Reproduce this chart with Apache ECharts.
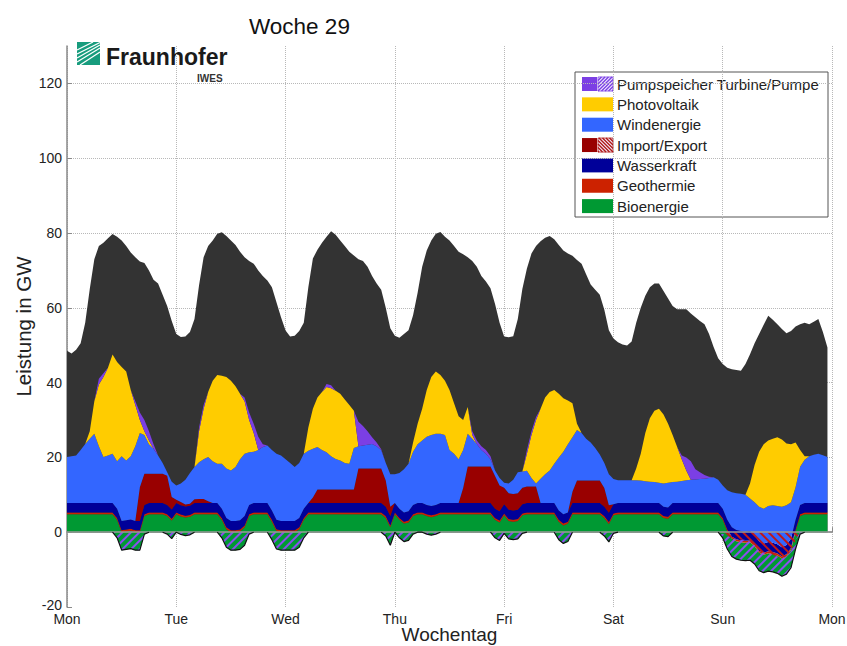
<!DOCTYPE html>
<html>
<head>
<meta charset="utf-8">
<script src="https://cdn.jsdelivr.net/npm/echarts@6/dist/echarts.min.js"></script>
<style>
  html, body { margin: 0; padding: 0; background: #ffffff; }
  #chart { width: 847px; height: 646px; }
</style>
</head>
<body>
<div id="chart"></div>
<script>
// Hourly generation, week 29 (Mon 00:00 .. Sun 23:00), values in GW.
const dayLabels = ['Mon', 'Tue', 'Wed', 'Thu', 'Fri', 'Sat', 'Sun', 'Mon'];

// Total load (top of the dark area)
const last = [
  48.5,47.8,48.8,50.5,56,65,73,76.5,77.4,78.6,79.7,79,78,76.5,74.8,73.5,72.4,72,70,67.5,66.5,63.5,60.5,56.5,
  53,52.2,52.3,53.5,57,66,73.5,76.5,78,79.8,80.2,79.2,78,76.8,75,73.5,72.5,71.8,70,68.5,67.3,65.5,61.5,57.5,
  53.9,52.3,52.5,53.8,56,65.5,73.2,75.5,77.4,79,80.5,79.5,78,76.5,75,74,73,72.5,71,68.5,66.5,64.8,60,54.5,
  52.5,52,53,54,58,64,71,75.3,78,79.8,80.3,79,78,76.5,75,74.3,73.5,72.5,71,68.5,67,65.2,61,56,
  52.3,52.1,52.4,57,65,70.5,74.5,76.5,77.8,78.7,79.2,78.3,76.8,75.3,74.5,73.9,72.8,71.8,69,66.2,64.8,63.5,59.5,54,
  51.8,50.8,50.2,49.9,51,56,60,63.2,65.5,66.5,66.5,64.5,62.5,60.5,59.6,59.6,59.6,58.5,57.5,56.5,55.6,53,49.5,46.5,
  45,44,43.6,43.4,43.2,45,47.6,50.5,53,55.5,57.9,56.8,55.6,54.3,53.2,53.8,55,55.6,56,55.6,56.3,57,53.5,49.4
];

const bioenergie = [
  4.8,4.8,4.8,4.8,4.8,4.8,4.8,4.8,4.8,4.8,4.8,4.8,4.8,4.8,4.8,4.8,4.8,4.8,4.8,4.8,4.8,4.8,4.8,4.8,
  4.8,4.8,4.8,4.8,4.8,4.8,4.8,4.8,4.8,4.8,4.8,4.8,4.8,4.8,4.8,4.8,4.8,4.8,4.8,4.8,4.8,4.8,4.8,4.8,
  4.8,4.8,4.8,4.8,4.8,4.8,4.8,4.8,4.8,4.8,4.8,4.8,4.8,4.8,4.8,4.8,4.8,4.8,4.8,4.8,4.8,4.8,4.8,4.8,
  4.8,4.8,4.8,4.8,4.8,4.8,4.8,4.8,4.8,4.8,4.8,4.8,4.8,4.8,4.8,4.8,4.8,4.8,4.8,4.8,4.8,4.8,4.8,4.8,
  4.8,4.8,4.8,4.8,4.8,4.8,4.8,4.8,4.8,4.8,4.8,4.8,4.8,4.8,4.8,4.8,4.8,4.8,4.8,4.8,4.8,4.8,4.8,4.8,
  4.8,4.8,4.8,4.8,4.8,4.8,4.8,4.8,4.8,4.8,4.8,4.8,4.8,4.8,4.8,4.8,4.8,4.8,4.8,4.8,4.8,4.8,4.8,4.8,
  4.8,4.8,4.8,4.8,4.8,4.8,4.8,4.8,4.8,4.8,4.8,4.8,4.8,4.8,4.8,4.8,4.8,4.8,4.8,4.8,4.8,4.8,4.8,4.8
];

const geothermie = [
  0.5,0.5,0.5,0.5,0.5,0.5,0.5,0.5,0.5,0.5,0.5,0.5,0.5,0.5,0.5,0.5,0.5,0.5,0.5,0.5,0.5,0.5,0.5,0.5,
  0.5,0.5,0.5,0.5,0.5,0.5,0.5,0.5,0.5,0.5,0.5,0.5,0.5,0.5,0.5,0.5,0.5,0.5,0.5,0.5,0.5,0.5,0.5,0.5,
  0.5,0.5,0.5,0.5,0.5,0.5,0.5,0.5,0.5,0.5,0.5,0.5,0.5,0.5,0.5,0.5,0.5,0.5,0.5,0.5,0.5,0.5,0.5,0.5,
  0.5,0.5,0.5,0.5,0.5,0.5,0.5,0.5,0.5,0.5,0.5,0.5,0.5,0.5,0.5,0.5,0.5,0.5,0.5,0.5,0.5,0.5,0.5,0.5,
  0.5,0.5,0.5,0.5,0.5,0.5,0.5,0.5,0.5,0.5,0.5,0.5,0.5,0.5,0.5,0.5,0.5,0.5,0.5,0.5,0.5,0.5,0.5,0.5,
  0.5,0.5,0.5,0.5,0.5,0.5,0.5,0.5,0.5,0.5,0.5,0.5,0.5,0.5,0.5,0.5,0.5,0.5,0.5,0.5,0.5,0.5,0.5,0.5,
  0.5,0.5,0.5,0.5,0.5,0.5,0.5,0.5,0.5,0.5,0.5,0.5,0.5,0.5,0.5,0.5,0.5,0.5,0.5,0.5,0.5,0.5,0.5,0.5
];

const wasserkraft = [
  2.5,2.5,2.5,2.5,2.5,2.5,2.5,2.5,2.5,2.5,2.5,2.5,2.5,2.5,2.5,2.5,2.5,2.5,2.5,2.5,2.5,2.5,2.5,2.5,
  2.5,2.5,2.5,2.5,2.5,2.5,2.5,2.5,2.5,2.5,2.5,2.5,2.5,2.5,2.5,2.5,2.5,2.5,2.5,2.5,2.5,2.5,2.5,2.5,
  2.5,2.5,2.5,2.5,2.5,2.5,2.5,2.5,2.5,2.5,2.5,2.5,2.5,2.5,2.5,2.5,2.5,2.5,2.5,2.5,2.5,2.5,2.5,2.5,
  2.5,2.5,2.5,2.5,2.5,2.5,2.5,2.5,2.5,2.5,2.5,2.5,2.5,2.5,2.5,2.5,2.5,2.5,2.5,2.5,2.5,2.5,2.5,2.5,
  2.5,2.5,2.5,2.5,2.5,2.5,2.5,2.5,2.5,2.5,2.5,2.5,2.5,2.5,2.5,2.5,2.5,2.5,2.5,2.5,2.5,2.5,2.5,2.5,
  2.5,2.5,2.5,2.5,2.5,2.5,2.5,2.5,2.5,2.5,2.5,2.5,2.5,2.5,2.5,2.5,2.5,2.5,2.5,2.5,2.5,2.5,2.5,2.5,
  2.5,2.5,2.5,2.5,2.5,2.5,2.5,2.5,2.5,2.5,2.5,2.5,2.5,2.5,2.5,2.5,2.5,2.5,2.5,2.5,2.5,2.5,2.5,2.5
];

// Import (positive) / Export (negative)
const importExport = [
  0,0,0,0,0,0,0,0,0,0,0,0,0,0,0,0,9,8.3,7.8,7.8,7.8,7.8,7.8,3.3,
  0.9,0.9,0.5,0.5,1,1.1,1.1,0.5,0,0,0,0,0,0,0,0,0,0,0,0,0,0,0,0,
  0,0,0,0,0,0,1.5,3.6,3.6,3.6,3.6,3.6,3.6,3.6,3.6,3.6,9.2,9.2,9.2,9.2,9.2,9.2,7,2.5,
  0,0,0,0,0,0,0,0,0,0,0,0,0,0,0,4,9.8,9.8,9.8,9.8,9.8,9.8,8.7,6.9,
  4.4,4.4,4.4,4.4,4.4,4.4,4.4,4.4,0,0,0,0,0,0,0,3,6,6,6,6,6,6,5,2,
  0,0,0,0,0,0,0,0,0,0,0,0,0,0,0,0,0,0,0,0,0,0,0,0,
  -0.5,-1,-1.5,-2,-2,-2,-2.5,-3.5,-5,-5.5,-5.5,-6,-6.5,-7,-6.5,-5,-2,0,0,0,0,0,0,0
];

const windenergie = [
  12.3,12.5,12.7,14.2,15.8,17.2,18.5,15.2,12.3,12.7,13.2,12.7,17.3,16,16.9,20,14.5,10.4,7.9,6.7,4.9,2.9,0.9,4.1,
  3.8,4.9,6.6,8.2,8.6,9.8,10.6,11.8,11.2,10.5,12,13.2,13.5,14.4,16.3,16.7,14.1,13.7,14.2,15,15.4,16.2,17.7,17.5,
  16.5,15.5,14.4,14.7,14.7,14,13,11.4,10.6,10,8.9,8.2,7.8,7.1,6.9,11.1,6,6.2,6.4,6.6,6,4.9,4.7,8.7,
  7.7,9.5,11.5,12.7,14.2,15.7,16.7,18.2,19,19,18.5,18.2,14.2,13.2,11.7,10.2,8.7,7.4,6,4.4,3.4,1.9,1.5,2,
  1.3,2.6,3.8,5.6,4.3,4.2,2.3,0.8,6.5,7.7,8.7,10.5,14.2,16.7,18.2,14.6,13.5,12.7,11.2,10.2,8.7,7,6.7,8.3,
  6.7,6.1,6.1,6.1,6.1,6.1,6,5.8,5.7,5.6,5.4,6.2,6.6,5.6,5.7,5.9,6.1,6.2,6.3,6.4,6.5,6.7,6.9,6.2,
  6.2,7.9,9.4,9.8,10,9.8,8.7,8.7,9.3,9.3,9.6,10,10.2,10.8,10.6,9.7,8.7,10.2,11.6,12.5,12.9,13.2,12.8,12.3
];

const photovoltaik = [
  0,0,0,0,0,2,8.7,16.5,21.4,23.5,26.5,26.5,23.9,23.8,17.7,11,3.5,1,1,0,0,0,0,0,
  0,0,0,0,0,8.3,13.5,17.4,21.5,23.7,23.5,24.5,24,21.6,17.5,14,8.6,5,0,0,0,0,0,0,
  0,0,0,0,0,6.2,10.7,13.2,15.5,17.4,18.2,18.2,17.8,17,15.7,10,0,0,0,0,0,0,0,0,
  0,0,0,0,2.5,5.5,8.5,12.5,15.5,16.7,15.7,14.5,16,13.5,11.5,8,7.2,1,0,0,0,0,0,0,
  0,0,0,0,0,4.6,11.5,17,18.7,20.5,21,19.7,17,14.3,11.7,9.1,1.7,0,0,0,0,0,0,0,
  0,0,0,0,0,3.1,7.2,12.9,17,19.1,19.8,18.5,15.8,12.6,9.3,5.8,2.6,0,0,0,0,0,0,0,
  0,0,0,0,0,0,4,10,14.7,17.2,17.5,17.8,18.4,18,16.5,15.5,12,4.5,0.9,0,0,0,0,0
];

// Pumped storage: turbine output (positive) and pumping (negative)
const pumpspeicherTurbine = [
  0,0,0,0,0,0,0,1.5,1,0,0,0,0,0,0,1,2,3,2.5,1.2,0,0,0,0,
  0,0,0,0,0,1,1,0,0,0,0,0,0,0,0,1,2,2.5,3.5,0.7,0,0,0,0,
  0,0,0,0,0,0,0,0,0,0.8,0.8,0,0,0,0,0,6.5,5.2,3.6,1.8,1,0.3,0,0,
  0,0,0,0,0,0,0,0,0,0,0,0,0,0,0,0,0,1,0.9,1,1,0.8,0,0,
  0,0,0,0,0,1,1,0.8,0,0,0,0,0,0,0,0,0,0,0,0,0,0,0,0,
  0,0,0,0,0,0,0,0,0,0,0,0,0,0,0,1,3.5,5,2.7,1.8,1,0.3,0,0,
  0,0,0,0,0,0,0,0,0,0,0,0,0,0,0,0,0,0,0,0,0,0,0,0
];

const pumpspeicherPumpe = [
  0,0,0,0,0,0,0,0,0,0,0,-1.5,-4.8,-4.6,-4.4,-4.8,-4.8,-0.5,0,0,0,0,-0.5,-1.7,
  0,-0.6,-0.9,-0.7,0,0,0,0,0,0,-1.5,-4,-4.8,-4.8,-4.6,-3.5,-0.5,0,0,0,0,-2,-4.5,-4.8,
  -4.8,-4.8,-4.8,-4,-1.5,0,0,0,0,0,0,0,0,0,0,0,0,0,0,0,0,0,-1,-3.5,
  0,-1.5,-2.5,-2.2,-0.5,0,0,-0.5,-0.8,-0.5,0,0,0,0,0,0,0,0,0,0,0,0,-1.5,-2.2,
  -0.3,-1.8,-2,-1.8,-0.3,0,0,0,0,0,0,0,-2,-3,-2.5,0,0,0,0,0,0,0,-1,-2.6,
  -0.3,0,0,0,0,0,0,0,0,0,0,-1,-1.2,0,0,0,0,0,0,0,0,0,0,0,
  -1,-3.5,-5,-5.2,-5.5,-5.6,-5,-5,-5.3,-5.3,-4.9,-4.6,-4.5,-4.8,-4.7,-4.5,-2.5,-0.5,0,0,0,0,0,0
];

// ---- derived series ----
const HOURS = last.length;                 // 168 hourly values
const categories = [];
for (let i = 0; i <= HOURS; i++) categories.push(String(i));   // axis runs to next Monday 00:00
const pad = arr => arr.concat([null]);

const importPart = importExport.map(v => (v > 0 ? v : 0));
const exportPart = importExport.map(v => (v < 0 ? v : 0));

// lower outline of everything below zero
const negTotal = pumpspeicherPumpe.map((v, i) => v + exportPart[i]);
const outline = negTotal.map((v, i) => {
  const prev = i > 0 ? negTotal[i - 1] : 0;
  const next = i < HOURS - 1 ? negTotal[i + 1] : 0;
  return (v < 0 || prev < 0 || next < 0) ? v : null;
});

const FONT = 'Liberation Sans, Arial, Helvetica, sans-serif';
const C = {
  last: '#333333',
  pump: '#7b3fe4',
  pv: '#ffcc00',
  wind: '#3366ff',
  imp: '#990000',
  wasser: '#000099',
  geo: '#cc2200',
  bio: '#009933'
};

function stackedArea(name, data, color, visible) {
  return {
    name: name,
    type: 'line',
    stack: 'erzeugung',
    stackStrategy: 'all',
    data: pad(data),
    symbol: 'none',
    showSymbol: false,
    silent: true,
    lineStyle: { width: 0 },
    itemStyle: { color: color },
    areaStyle: { color: color, opacity: visible ? 1 : 0 },
    emphasis: { disabled: true },
    z: 3
  };
}

function hatchedArea(name, data, lineColor, rotation) {
  return {
    name: name,
    type: 'line',
    stack: 'negativ',
    data: pad(data),
    symbol: 'none',
    showSymbol: false,
    silent: true,
    lineStyle: { width: 0 },
    itemStyle: {
      color: lineColor,
      decal: {
        symbol: 'rect',
        symbolSize: 1,
        color: lineColor,
        dashArrayX: [1, 0],
        dashArrayY: [2, 3.5],
        rotation: rotation
      }
    },
    areaStyle: { color: 'rgba(0,0,0,0)', opacity: 1 },
    emphasis: { disabled: true },
    z: 4
  };
}

// ---- legend box (graphic) ----
const legendItems = [
  { label: 'Pumpspeicher Turbine/Pumpe', color: C.pump, hatch: '#7b3fe4', dir: 1 },
  { label: 'Photovoltaik', color: C.pv },
  { label: 'Windenergie', color: C.wind },
  { label: 'Import/Export', color: C.imp, hatch: '#b01818', dir: -1 },
  { label: 'Wasserkraft', color: C.wasser },
  { label: 'Geothermie', color: C.geo },
  { label: 'Bioenergie', color: C.bio }
];

function hatchLines(x, y, w, h, step, dir, color) {
  const out = [];
  for (let k = -h; k < w; k += step) {
    let x1 = x + k, y1 = y + h, x2 = x + k + h, y2 = y;
    if (x1 < x) { y1 -= (x - x1); x1 = x; }
    if (x2 > x + w) { y2 += (x2 - (x + w)); x2 = x + w; }
    if (x2 <= x1) continue;
    if (dir < 0) {
      const m1 = 2 * x + w - x1, m2 = 2 * x + w - x2;
      x1 = m1; x2 = m2;
    }
    out.push({ type: 'line', shape: { x1: x1, y1: y1, x2: x2, y2: y2 },
               style: { stroke: color, lineWidth: 1.4 } });
  }
  return out;
}

const legendChildren = [
  { type: 'rect', shape: { x: 575, y: 72, width: 253, height: 145 },
    style: { fill: '#ffffff', stroke: '#555555', lineWidth: 1 } }
];
legendItems.forEach((it, i) => {
  const cy = 84 + i * 20.35;
  const sx = 582, sy = cy - 7, sw = 31, sh = 14;
  if (it.hatch) {
    legendChildren.push({ type: 'rect', shape: { x: sx, y: sy, width: 15, height: sh },
                          style: { fill: it.color } });
    legendChildren.push({ type: 'rect', shape: { x: sx + 16, y: sy, width: 15, height: sh },
                          style: { fill: '#f4f0ff', stroke: it.hatch, lineWidth: 0.8 } });
    hatchLines(sx + 16, sy, 15, sh, 3.5, it.dir, it.hatch).forEach(l => legendChildren.push(l));
  } else {
    legendChildren.push({ type: 'rect', shape: { x: sx, y: sy, width: sw, height: sh },
                          style: { fill: it.color } });
  }
  legendChildren.push({ type: 'text', x: 617, y: cy,
    style: { text: it.label, font: '15px ' + FONT, fill: '#222222', textVerticalAlign: 'middle' } });
});

// ---- logo ----
const logoChildren = [
  { type: 'rect', shape: { x: 77, y: 42, width: 23, height: 23 }, style: { fill: '#179c7d' } }
];
[[0, 20, 23, 6], [0, 16, 23, 3], [0, 12, 23, 0.5], [3, 23, 23, 10], [0, 8, 16, 0]].forEach(p => {
  logoChildren.push({ type: 'line',
    shape: { x1: 77 + p[0], y1: 42 + p[1], x2: 77 + p[2], y2: 42 + p[3] },
    style: { stroke: '#ffffff', lineWidth: 1.3 } });
});
logoChildren.push({ type: 'text', x: 106, y: 45,
  style: { text: 'Fraunhofer', font: 'bold 23px ' + FONT, fill: '#1a1a1a' } });
logoChildren.push({ type: 'text', x: 197, y: 73,
  style: { text: 'IWES', font: 'bold 10px ' + FONT, fill: '#333333' } });

const chart = echarts.init(document.getElementById('chart'), null, { renderer: 'svg' });

chart.setOption({
  animation: false,
  backgroundColor: '#ffffff',
  textStyle: { fontFamily: FONT },
  title: {
    text: 'Woche 29',
    left: 244,
    top: 10,
    textStyle: { fontSize: 22.5, fontWeight: 'normal', color: '#111111', fontFamily: FONT }
  },
  grid: { left: 67, right: 15, top: 46, bottom: 39, containLabel: false, outerBoundsMode: 'none' },
  xAxis: {
    type: 'category',
    data: categories,
    boundaryGap: false,
    name: 'Wochentag',
    nameLocation: 'middle',
    nameGap: 18,
    nameMoveOverlap: false,
    nameTextStyle: { fontSize: 19, color: '#222222', fontFamily: FONT },
    axisLine: { lineStyle: { color: '#8a8a8a', width: 1.5 } },
    axisTick: { show: true, inside: true, length: 5, interval: 23, lineStyle: { color: '#8a8a8a' } },
    axisLabel: {
      interval: 23,
      margin: 5,
      fontSize: 14,
      color: '#222222',
      formatter: (v, idx) => dayLabels[Math.round(idx / 24)]
    },
    splitLine: { show: true, interval: 23, lineStyle: { color: '#b8b8b8', type: 'dotted', width: 1 } }
  },
  yAxis: {
    type: 'value',
    min: -20,
    max: 130,
    interval: 20,
    name: 'Leistung in GW',
    nameLocation: 'middle',
    nameGap: 33,
    nameMoveOverlap: false,
    nameTextStyle: { fontSize: 20.5, color: '#222222', fontFamily: FONT },
    axisLine: { show: true, lineStyle: { color: '#8a8a8a', width: 1.5 } },
    axisTick: { show: true, inside: true, length: 5, lineStyle: { color: '#8a8a8a' } },
    axisLabel: {
      fontSize: 14,
      color: '#222222',
      margin: 5,
      showMaxLabel: false,
      // lowest label sits slightly higher so it clears the first day label
      formatter: v => (v === -20 ? '{low|-20}' : String(v)),
      rich: { low: { fontSize: 14, color: '#222222', padding: [0, 0, 5, 0] } }
    },
    splitLine: { show: true, showMinLine: false, showMaxLine: false,
                 lineStyle: { color: '#b8b8b8', type: 'dotted', width: 1 } }
  },
  graphic: [
    { type: 'group', z: 100, children: legendChildren },
    { type: 'group', z: 100, children: logoChildren }
  ],
  series: [
    {
      name: 'Last',
      type: 'line',
      data: pad(last),
      symbol: 'none',
      showSymbol: false,
      silent: true,
      lineStyle: { width: 0 },
      itemStyle: { color: C.last },
      areaStyle: { color: C.last, opacity: 1 },
      z: 2
    },
    stackedArea('Pumpe (Basis)', pumpspeicherPumpe, C.pump, false),
    stackedArea('Export (Basis)', exportPart, C.imp, false),
    stackedArea('Bioenergie', bioenergie, C.bio, true),
    stackedArea('Geothermie', geothermie, C.geo, true),
    stackedArea('Wasserkraft', wasserkraft, C.wasser, true),
    stackedArea('Import', importPart, C.imp, true),
    stackedArea('Windenergie', windenergie, C.wind, true),
    stackedArea('Photovoltaik', photovoltaik, C.pv, true),
    stackedArea('Pumpspeicher Turbine', pumpspeicherTurbine, C.pump, true),
    hatchedArea('Export', exportPart, '#c01818', Math.PI / 4),
    hatchedArea('Pumpspeicher Pumpe', pumpspeicherPumpe, '#8a4cf0', -Math.PI / 4),
    {
      name: 'Umriss',
      type: 'line',
      data: pad(outline),
      symbol: 'none',
      showSymbol: false,
      silent: true,
      connectNulls: false,
      lineStyle: { color: '#111111', width: 1.2 },
      z: 5,
      markLine: {
        silent: true,
        symbol: ['none', 'none'],
        label: { show: false },
        lineStyle: { color: '#9a9a9a', width: 1.5, type: 'solid' },
        data: [{ yAxis: 0 }]
      }
    }
  ]
});
</script>
</body>
</html>
